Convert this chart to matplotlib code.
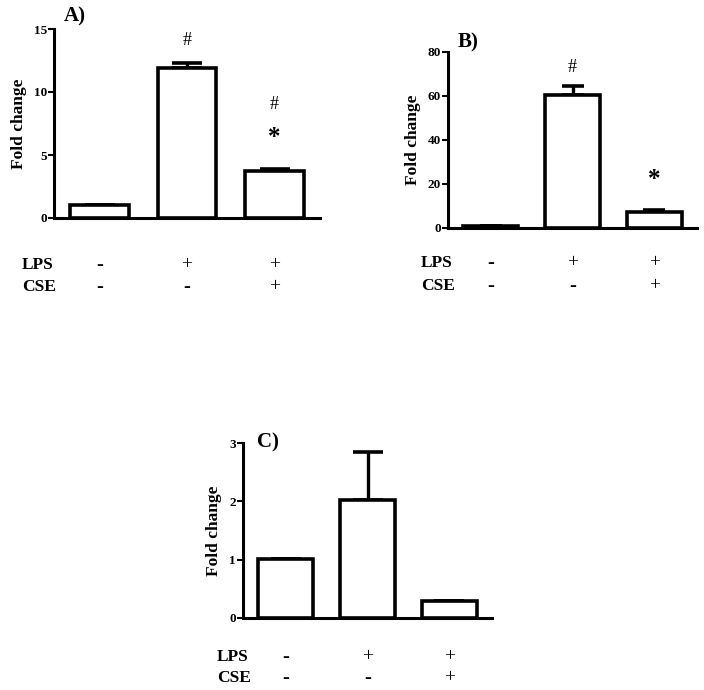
import matplotlib
matplotlib.use("Agg")
import matplotlib.pyplot as plt
from matplotlib import transforms

plt.rcParams['font.family'] = ['Liberation Serif', 'DejaVu Serif']

groups = ["ctrl", "LPS", "LPS+CSE"]
lps_signs = ["-", "+", "+"]
cse_signs = ["-", "-", "+"]

# Panel A
a_vals = [1.0, 11.9, 3.7]
a_err = [0.0, 0.4, 0.2]
a_yticks = [0, 5, 10, 15]
# Panel B
b_vals = [1.0, 60.5, 7.5]
b_err = [0.0, 4.0, 0.6]
b_yticks = [0, 20, 40, 60, 80]
# Panel C
c_vals = [1.02, 2.02, 0.3]
c_err = [0.0, 0.83, 0.0]
c_yticks = [0, 1, 2, 3]

W, H = 704, 690
fig = plt.figure(figsize=(W / 100, H / 100), dpi=100)


def px_rect(x0, y0, x1, y1):
    return [x0 / W, 1 - y1 / H, (x1 - x0) / W, (y1 - y0) / H]


def panel(rect, vals, err, yticks, label, label_xy, lps_y, cse_y, row_x,
          annots, capsize):
    ax = fig.add_axes(px_rect(*rect))
    x = list(range(len(vals)))
    ax.bar(x, vals, width=0.67, color='white', edgecolor='black',
           linewidth=2.6, zorder=2)
    ax.errorbar(x, vals, yerr=[[0] * len(err), err], fmt='none',
                ecolor='black', elinewidth=2.4, capsize=capsize,
                capthick=2.6, zorder=1)
    ax.set_xlim(-0.52, 2.52)
    ax.set_ylim(yticks[0], yticks[-1])
    ax.set_yticks(yticks)
    ax.set_xticks([])
    for s in ['top', 'right']:
        ax.spines[s].set_visible(False)
    for s in ['left', 'bottom']:
        ax.spines[s].set_linewidth(2.2)
    ax.tick_params(axis='y', length=4, width=1.5, pad=1, labelsize=9.5)
    for t in ax.get_yticklabels():
        t.set_fontweight('bold')
    ax.set_ylabel('Fold change', fontsize=12.5, fontweight='bold', labelpad=5)
    fig.text(label_xy[0] / W, 1 - label_xy[1] / H, label, fontsize=15,
             fontweight='bold', ha='left', va='center')
    tr = transforms.blended_transform_factory(ax.transData, fig.transFigure)
    fig.text(row_x / W, 1 - lps_y / H, 'LPS', fontsize=12.5, fontweight='bold',
             ha='left', va='center')
    fig.text(row_x / W, 1 - cse_y / H, 'CSE', fontsize=12.5, fontweight='bold',
             ha='left', va='center')
    for i in x:
        for sign, yy in ((lps_signs[i], lps_y), (cse_signs[i], cse_y)):
            if sign == '-':
                ax.text(i, 1 - yy / H, '-', transform=tr, fontsize=15,
                        fontweight='bold', ha='center', va='center')
            else:
                ax.text(i, 1 - yy / H, '+', transform=tr, fontsize=14,
                        ha='center', va='center')
    for (i, yv, s) in annots:
        if s == '*':
            ax.text(i, yv, s, fontsize=18, fontweight='bold', ha='center',
                    va='center')
        else:
            ax.text(i, yv, s, fontsize=13, ha='center', va='center')
    return ax


panel((54, 29, 320, 218), a_vals, a_err, a_yticks, 'A)', (64, 16), 265, 287,
      22, [(1, 14.1, '#'), (2, 9.0, '#'), (2, 6.4, '*')], 11)
panel((448, 52, 697, 228), b_vals, b_err, b_yticks, 'B)', (458, 42), 263, 286,
      421, [(1, 73, '#'), (2, 22, '*')], 8)
panel((243, 443, 492, 618), c_vals, c_err, c_yticks, 'C)', (257, 442), 657, 678,
      217, [], 11)

fig.savefig('out.png', dpi=100)
